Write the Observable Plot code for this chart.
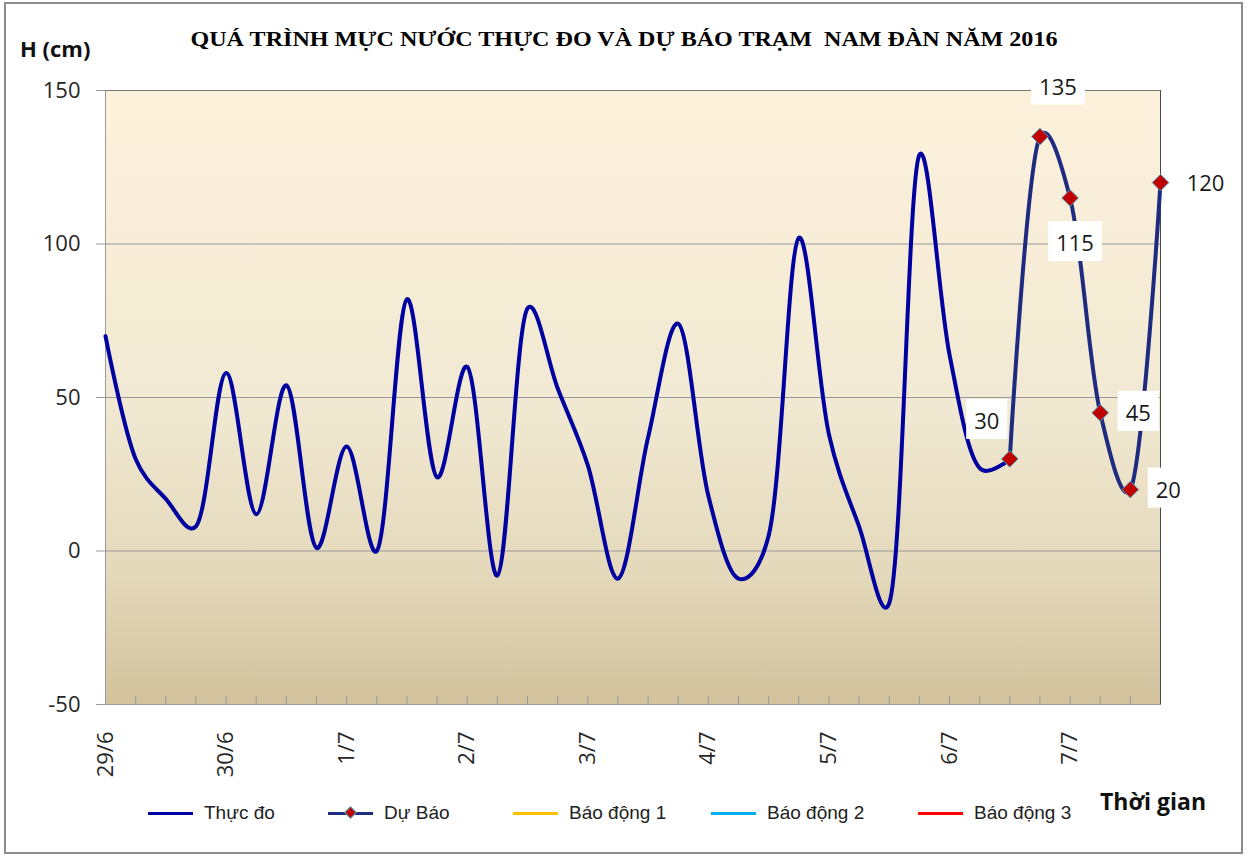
<!DOCTYPE html>
<html>
<head>
<meta charset="utf-8">
<script src="https://cdn.jsdelivr.net/npm/d3@7"></script>
<script src="https://cdn.jsdelivr.net/npm/@observablehq/plot@0.6"></script>
<style>
  body { margin: 0; background: #fff; }
  #wrap { position: relative; width: 1251px; height: 857px; overflow: hidden; font-family: "Open Sans", sans-serif; }
  #border { position: absolute; left: 4px; top: 2px; width: 1239px; height: 852px; border: 2px solid #8c8c8c; box-sizing: border-box; }
  #chart { position: absolute; left: 0; top: 0; }
  #title { position: absolute; top: 29px; left: 0; width: 1251px; text-align: center; white-space: nowrap; }
  #title span { display: inline-block; font-family: "Liberation Serif", "Times New Roman", serif; font-weight: bold; font-size: 20px; line-height: 20px; color: #000; transform-origin: center; position: relative; left: -2px; }
  #ylab { position: absolute; left: 20px; top: 37px; font-weight: bold; font-size: 22px; line-height: 22px; color: #111; }
  #xlab { position: absolute; left: 1100px; top: 790px; font-weight: bold; font-size: 23px; line-height: 23px; color: #111; }
  .leg { position: absolute; top: 803px; height: 20px; display: flex; align-items: center; }
  .leg .sw { position: relative; width: 45px; height: 3px; margin-right: 11px; }
  .leg .dm { position: absolute; left: 18px; top: -4px; width: 7px; height: 7px; background: #C00000; border: 1px solid #4BACC6; transform: rotate(45deg); }
  .leg .tx { font-family: "Liberation Sans Narrow", "Arial Narrow", "Liberation Sans", sans-serif; font-size: 19px; color: #222; line-height: 20px; }
</style>
</head>
<body>
<div id="wrap">
  <div id="border"></div>
  <div id="chart"></div>
  <div id="title"><span>QUÁ TRÌNH MỰC NƯỚC THỰC ĐO VÀ DỰ BÁO TRẠM&nbsp; NAM ĐÀN NĂM 2016</span></div>
  <div id="ylab">H (cm)</div>
  <div id="xlab">Thời gian</div>
</div>
<script>
// ---- data ----
const observedTimes = [
  "2016-06-29T00:00Z","2016-06-29T06:00Z","2016-06-29T12:00Z","2016-06-29T18:00Z",
  "2016-06-30T00:00Z","2016-06-30T06:00Z","2016-06-30T12:00Z","2016-06-30T18:00Z",
  "2016-07-01T00:00Z","2016-07-01T06:00Z","2016-07-01T12:00Z","2016-07-01T18:00Z",
  "2016-07-02T00:00Z","2016-07-02T06:00Z","2016-07-02T12:00Z","2016-07-02T18:00Z",
  "2016-07-03T00:00Z","2016-07-03T06:00Z","2016-07-03T12:00Z","2016-07-03T18:00Z",
  "2016-07-04T00:00Z","2016-07-04T06:00Z","2016-07-04T12:00Z","2016-07-04T18:00Z",
  "2016-07-05T00:00Z","2016-07-05T06:00Z","2016-07-05T12:00Z","2016-07-05T18:00Z",
  "2016-07-06T00:00Z","2016-07-06T06:00Z","2016-07-06T12:00Z"
];
const observedValues = [
  70, 30, 17, 8,
  58, 12, 54, 1,
  34, 0, 82, 24,
  60, -8, 79, 53,
  28, -9, 37, 74,
  18, -9, 5, 102,
  38, 8, -17, 129,
  64, 27, 30
];
const forecastTimes = [
  "2016-07-06T12:00Z","2016-07-06T18:00Z","2016-07-07T00:00Z",
  "2016-07-07T06:00Z","2016-07-07T12:00Z","2016-07-07T18:00Z"
];
const forecastValues = [30, 135, 115, 45, 20, 120];

const dayTicks = [
  "2016-06-29T00:00Z","2016-06-30T00:00Z","2016-07-01T00:00Z","2016-07-02T00:00Z",
  "2016-07-03T00:00Z","2016-07-04T00:00Z","2016-07-05T00:00Z","2016-07-06T00:00Z","2016-07-07T00:00Z"
];
const dayLabels = ["29/6","30/6","1/7","2/7","3/7","4/7","5/7","6/7","7/7"];
const yTicks = [-50, 0, 50, 100, 150];
const yGrid = [0, 50, 100];
const yDomain = [-50, 150];

const legendLabels = ["Thực đo", "Dự Báo", "Báo động 1", "Báo động 2", "Báo động 3"];
const legendColors = ["#0000A0", "#1F2B80", "#FFC000", "#00B0F0", "#FF0000"];

// ---- layout / style (not data) ----
const legendLeft = [148, 328, 513, 711, 918];
const labelOffsets = [[-23, -37], [18, -49], [5, 46], [38, 1], [38, 1], [45, 1]];

// ---- build ----
const obs = observedTimes.map((t, i) => ({t: new Date(t), v: observedValues[i]}));
const fc = forecastTimes.map((t, i) => ({t: new Date(t), v: forecastValues[i], label: String(forecastValues[i])}));
const allTimes = [...obs.map(d => d.t), ...fc.slice(1).map(d => d.t)];
const dayDates = dayTicks.map(d => new Date(d));
const dayMap = new Map(dayDates.map((d, i) => [+d, dayLabels[i]]));

const plotTop = 90, plotBottom = 704;
const minorTickUnits = 8 * (yDomain[1] - yDomain[0]) / (plotBottom - plotTop);

const svg = Plot.plot({
  width: 1251,
  height: 857,
  marginLeft: 105,
  marginRight: 91,
  marginTop: plotTop,
  marginBottom: 857 - plotBottom,
  style: {fontFamily: "'Open Sans', sans-serif", fontSize: "22px", color: "#262626", background: "transparent", overflow: "visible"},
  x: {type: "utc", domain: [allTimes[0], allTimes[allTimes.length - 1]], ticks: dayDates,
      tickFormat: d => dayMap.get(+d), tickRotate: -90, tickSize: 0, tickPadding: 27, label: null},
  y: {domain: yDomain, ticks: yTicks, tickFormat: d => String(d), tickSize: 9, tickPadding: 16, label: null},
  marks: [
    Plot.frame({fill: "url(#bgGrad)", stroke: "#9a9a9a"}),
    Plot.ruleY(yGrid, {stroke: "#999", strokeWidth: 1.2}),
    Plot.ruleY([yDomain[1]], {stroke: "#7a7a7a"}),
    Plot.ruleX(allTimes, {y1: yDomain[0], y2: yDomain[0] + minorTickUnits, stroke: "#9a9a9a"}),
    Plot.ruleX([allTimes[allTimes.length - 1]], {stroke: "#4a4a4a"}),
    Plot.line(obs, {x: "t", y: "v", curve: "catmull-rom", tension: 0.25, stroke: legendColors[0], strokeWidth: 4}),
    Plot.line(fc, {x: "t", y: "v", curve: "catmull-rom", tension: 0.25, stroke: legendColors[1], strokeWidth: 4}),
    Plot.dot(fc, {x: "t", y: "v", symbol: "diamond2", r: 7.5, fill: "#C00000", stroke: "#4BACC6", strokeWidth: 1}),
    ...fc.map((d, i) => Plot.text([d], {x: "t", y: "v", text: "label", dx: labelOffsets[i][0], dy: labelOffsets[i][1], fontSize: 22, fill: "#1a1a1a"}))
  ]
});

document.getElementById("chart").appendChild(svg);

// gradient background for plot area
const defs = d3.select(svg).insert("defs", ":first-child");
const grad = defs.append("linearGradient").attr("id", "bgGrad").attr("x1", 0).attr("y1", 0).attr("x2", 0).attr("y2", 1);
[["0%", "#FDF1DC"], ["50%", "#F1E9D3"], ["78%", "#E4D9BB"], ["100%", "#D2C29D"]].forEach(([o, c]) => grad.append("stop").attr("offset", o).attr("stop-color", c));

// axis tick colour
d3.select(svg).selectAll('[aria-label="y-axis tick"], [aria-label="x-axis tick"]').attr("stroke", "#999");
d3.select(svg).selectAll('.tick line').attr("stroke", "#999");

// white boxes behind data labels
d3.select(svg).selectAll('g[aria-label="text"] text').each(function () {
  const b = this.getBBox();
  const r = document.createElementNS("http://www.w3.org/2000/svg", "rect");
  r.setAttribute("x", b.x - 8);
  r.setAttribute("y", b.y - 6);
  r.setAttribute("width", b.width + 16);
  r.setAttribute("height", b.height + 10);
  r.setAttribute("fill", "#fff");
  r.setAttribute("stroke", "none");
  const tr = this.getAttribute("transform");
  if (tr) r.setAttribute("transform", tr);
  this.parentNode.insertBefore(r, this);
});

// title fit to width
const ts = document.querySelector("#title span");
const tw = ts.getBoundingClientRect().width;
ts.style.transform = `scaleX(${867 / tw})`;

// legend
const wrap = document.getElementById("wrap");
legendLabels.forEach((lab, i) => {
  const item = document.createElement("div");
  item.className = "leg";
  item.style.left = legendLeft[i] + "px";
  const sw = document.createElement("div");
  sw.className = "sw";
  sw.style.background = legendColors[i];
  if (i === 1) { const dm = document.createElement("div"); dm.className = "dm"; sw.appendChild(dm); }
  const tx = document.createElement("span");
  tx.className = "tx";
  tx.textContent = lab;
  item.appendChild(sw);
  item.appendChild(tx);
  wrap.appendChild(item);
});
</script>
</body>
</html>
